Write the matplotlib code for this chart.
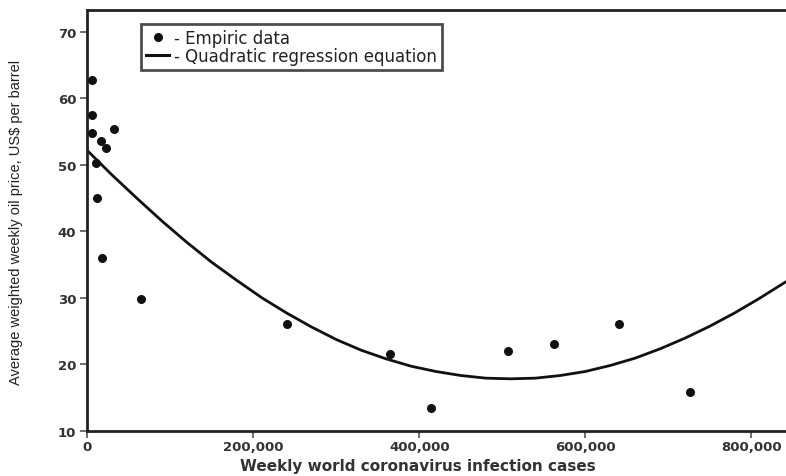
import matplotlib
matplotlib.use("Agg")
import matplotlib.pyplot as plt
from matplotlib.lines import Line2D
from matplotlib.ticker import FuncFormatter

# Empiric data (weekly cases, oil price)
cases = [6000, 6000, 5000, 10000, 12000, 16000, 22000, 32000, 18000, 64000,
         241000, 365000, 414000, 507000, 562000, 641000, 726000]
price = [62.7, 57.4, 54.7, 50.3, 45.0, 53.5, 52.5, 55.4, 35.9, 29.8,
         26.0, 21.5, 13.4, 22.0, 23.0, 26.0, 15.8]

# Quadratic regression curve
curve_x = [0, 30000, 60000, 90000, 120000, 150000, 180000, 210000, 240000,
           270000, 300000, 330000, 360000, 390000, 420000, 450000, 480000,
           510000, 540000, 570000, 600000, 630000, 660000, 690000, 720000,
           750000, 780000, 810000, 842000]
curve_y = [52.1, 48.4, 44.9, 41.5, 38.3, 35.3, 32.6, 30.0, 27.7,
           25.6, 23.7, 22.1, 20.8, 19.7, 18.9, 18.3, 17.9,
           17.8, 17.9, 18.3, 18.9, 19.8, 20.9, 22.3, 23.9,
           25.7, 27.7, 29.9, 32.4]

xticks = [0, 200000, 400000, 600000, 800000]
yticks = [10, 20, 30, 40, 50, 60, 70]

fig = plt.figure(figsize=(7.86, 4.77), dpi=100)
ax = fig.add_axes([0.1113, 0.095, 0.8887, 0.8825])

ax.plot(curve_x, curve_y, color="#111111", lw=2.0, solid_capstyle="round",
        solid_joinstyle="round", zorder=2)
ax.scatter(cases, price, s=30, color="#111111", zorder=3, clip_on=False)

ax.set_xlim(0, 842000)
ax.set_ylim(10, 73.3)
ax.set_xticks(xticks)
ax.set_yticks(yticks)
ax.xaxis.set_major_formatter(FuncFormatter(lambda v, p: f"{int(v):,}"))

for s in ["left", "bottom", "top"]:
    ax.spines[s].set_linewidth(2.0)
    ax.spines[s].set_color("#222222")
ax.spines["right"].set_visible(False)

ax.tick_params(axis="both", direction="out", length=5, width=1.2, color="#555555",
               labelsize=9.5, labelcolor="#333333")
for lbl in ax.get_xticklabels() + ax.get_yticklabels():
    lbl.set_fontweight("bold")
ax.tick_params(axis="x", pad=2)
ax.tick_params(axis="y", pad=3)

ax.set_xlabel("Weekly world coronavirus infection cases", fontsize=11,
              fontweight="bold", color="#333333")
ax.xaxis.set_label_coords(0.473, -0.066)
ax.set_ylabel("Average weighted weekly oil price, US$ per barrel", fontsize=10.5,
              family=["Liberation Sans", "DejaVu Sans"], color="#222222")
ax.yaxis.set_label_coords(-0.092, 0.498)

handles = [Line2D([], [], marker="o", ls="none", color="#111111", markersize=5.5),
           Line2D([], [], color="#111111", lw=2.2)]
leg = ax.legend(handles, ["- Empiric data", "- Quadratic regression equation"],
                loc="upper left", bbox_to_anchor=(0.0766, 0.966), frameon=True,
                fancybox=False, edgecolor="#222222", handlelength=1.4,
                handletextpad=0.3, borderpad=0.3, labelspacing=0.0,
                borderaxespad=0.0, prop={"family": "DejaVu Sans", "size": 12})
leg.get_frame().set_linewidth(2.0)
for t in leg.get_texts():
    t.set_color("#222222")

fig.savefig("out.png", dpi=100)
